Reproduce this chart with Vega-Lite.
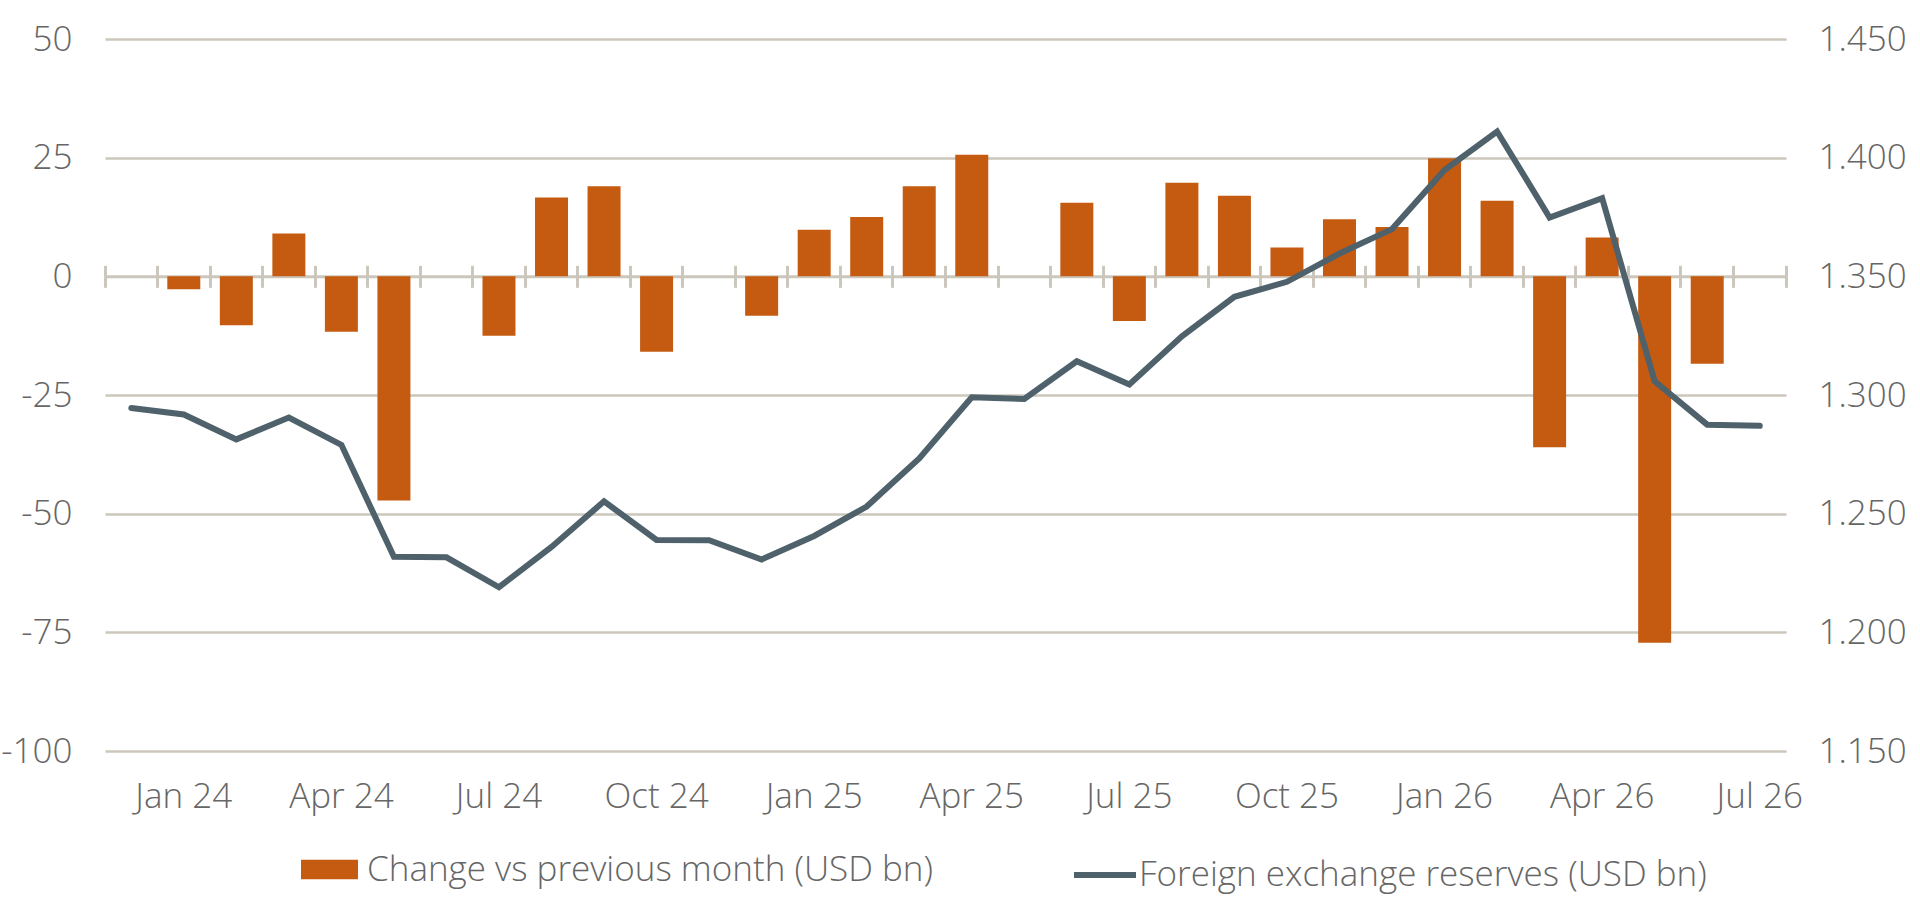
{
  "$schema": "https://vega.github.io/schema/vega-lite/v6.json",
  "width": 1681,
  "height": 712,
  "autosize": {"type": "none"},
  "padding": {"left": 105, "top": 39, "right": 134, "bottom": 169},
  "config": {
    "background": "white",
    "view": {"stroke": null},
    "font": "Open Sans",
    "axis": {"labelFont": "Open Sans", "labelFontWeight": 300, "labelFontSize": 35, "labelColor": "#666666"},
    "legend": {"labelFont": "Open Sans", "labelFontWeight": 300, "labelFontSize": 35, "labelColor": "#666666", "labelLimit": 0}
  },
  "data": {
    "values": [
      {"month": "Dec 23", "change": null, "reserves": 1294.5},
      {"month": "Jan 24", "change": -2.7, "reserves": 1291.8},
      {"month": "Feb 24", "change": -10.3, "reserves": 1281.3},
      {"month": "Mar 24", "change": 9.0, "reserves": 1290.5},
      {"month": "Apr 24", "change": -11.7, "reserves": 1279.0},
      {"month": "May 24", "change": -47.2, "reserves": 1231.8},
      {"month": "Jun 24", "change": 0, "reserves": 1231.6},
      {"month": "Jul 24", "change": -12.5, "reserves": 1219.0},
      {"month": "Aug 24", "change": 16.6, "reserves": 1236.0},
      {"month": "Sep 24", "change": 19.0, "reserves": 1255.2},
      {"month": "Oct 24", "change": -15.9, "reserves": 1238.9},
      {"month": "Nov 24", "change": 0, "reserves": 1238.8},
      {"month": "Dec 24", "change": -8.3, "reserves": 1230.7},
      {"month": "Jan 25", "change": 9.8, "reserves": 1240.6},
      {"month": "Feb 25", "change": 12.5, "reserves": 1253.0},
      {"month": "Mar 25", "change": 19.0, "reserves": 1273.3},
      {"month": "Apr 25", "change": 25.6, "reserves": 1299.0},
      {"month": "May 25", "change": 0, "reserves": 1298.3},
      {"month": "Jun 25", "change": 15.5, "reserves": 1314.2},
      {"month": "Jul 25", "change": -9.4, "reserves": 1304.4},
      {"month": "Aug 25", "change": 19.7, "reserves": 1324.7},
      {"month": "Sep 25", "change": 17.0, "reserves": 1341.4},
      {"month": "Oct 25", "change": 6.1, "reserves": 1347.7},
      {"month": "Nov 25", "change": 12.0, "reserves": 1359.6},
      {"month": "Dec 25", "change": 10.4, "reserves": 1369.9},
      {"month": "Jan 26", "change": 24.9, "reserves": 1394.8},
      {"month": "Feb 26", "change": 15.9, "reserves": 1411.0},
      {"month": "Mar 26", "change": -36.0, "reserves": 1374.8},
      {"month": "Apr 26", "change": 8.2, "reserves": 1382.9},
      {"month": "May 26", "change": -77.2, "reserves": 1305.8},
      {"month": "Jun 26", "change": -18.4, "reserves": 1287.5},
      {"month": "Jul 26", "change": 0, "reserves": 1287.0}
    ]
  },
  "layer": [
    {
      "mark": {"type": "bar", "width": {"band": 0.628}},
      "encoding": {
        "x": {
          "field": "month",
          "type": "nominal",
          "sort": ["Dec 23", "Jan 24", "Feb 24", "Mar 24", "Apr 24", "May 24", "Jun 24", "Jul 24", "Aug 24", "Sep 24", "Oct 24", "Nov 24", "Dec 24", "Jan 25", "Feb 25", "Mar 25", "Apr 25", "May 25", "Jun 25", "Jul 25", "Aug 25", "Sep 25", "Oct 25", "Nov 25", "Dec 25", "Jan 26", "Feb 26", "Mar 26", "Apr 26", "May 26", "Jun 26", "Jul 26"],
          "scale": {"paddingInner": 0, "paddingOuter": 0},
          "axis": {
            "title": null,
            "orient": "bottom",
            "offset": -474.67,
            "bandPosition": 1,
            "tickExtra": true,
            "domain": true,
            "domainColor": "#CCC7BD",
            "domainWidth": 3,
            "ticks": true,
            "tickSize": 11,
            "tickWidth": 3,
            "tickColor": "#CCC7BD",
            "grid": false,
            "labelAngle": 0,
            "labelAlign": "center",
            "labelBaseline": "alphabetic",
            "labelPadding": 520,
            "labelOffset": 0,
            "labelExpr": "indexof(['Jan', 'Apr', 'Jul', 'Oct'], substring(datum.value, 0, 3)) >= 0 ? datum.value : ''"
          }
        },
        "y": {
          "field": "change",
          "type": "quantitative",
          "scale": {"domain": [-100, 50], "nice": false},
          "axis": {
            "title": null,
            "values": [-100, -75, -50, -25, 0, 25, 50],
            "domain": false,
            "ticks": false,
            "labelPadding": 33,
            "labelExpr": "'' + datum.value",
            "grid": true,
            "gridColor": "#CCC7BD",
            "gridWidth": 2.5,
            "gridOpacity": {"condition": {"test": "datum.value === 0", "value": 0}, "value": 1}
          }
        },
        "fill": {
          "datum": "Change vs previous month (USD bn)",
          "scale": {"range": ["#C55A11"]},
          "legend": {
            "title": null,
            "orient": "none",
            "legendX": 196,
            "legendY": 802,
            "padding": 0,
            "symbolType": "M-1,-0.34H1V0.34H-1Z",
            "symbolSize": 3249,
            "symbolStrokeWidth": 0,
            "symbolOpacity": 1,
            "labelOffset": 9
          }
        }
      }
    },
    {
      "mark": {"type": "line", "strokeWidth": 6, "strokeCap": "round"},
      "encoding": {
        "x": {
          "field": "month",
          "type": "nominal",
          "sort": ["Dec 23", "Jan 24", "Feb 24", "Mar 24", "Apr 24", "May 24", "Jun 24", "Jul 24", "Aug 24", "Sep 24", "Oct 24", "Nov 24", "Dec 24", "Jan 25", "Feb 25", "Mar 25", "Apr 25", "May 25", "Jun 25", "Jul 25", "Aug 25", "Sep 25", "Oct 25", "Nov 25", "Dec 25", "Jan 26", "Feb 26", "Mar 26", "Apr 26", "May 26", "Jun 26", "Jul 26"],
          "axis": {
            "title": null,
            "orient": "top",
            "offset": -237.33,
            "bandPosition": 1,
            "tickExtra": true,
            "domain": false,
            "ticks": true,
            "tickSize": 11,
            "tickWidth": 3,
            "tickColor": "#CCC7BD",
            "grid": false,
            "labels": false
          }
        },
        "y": {
          "field": "reserves",
          "type": "quantitative",
          "scale": {"domain": [1150, 1450], "nice": false, "zero": false},
          "axis": {
            "title": null,
            "orient": "right",
            "values": [1150, 1200, 1250, 1300, 1350, 1400, 1450],
            "domain": false,
            "ticks": false,
            "grid": false,
            "labelPadding": 32,
            "labelExpr": "replace(format(datum.value, ','), ',', '.')"
          }
        },
        "stroke": {
          "datum": "Foreign exchange reserves (USD bn)",
          "scale": {"range": ["#4F626C"]},
          "legend": {
            "title": null,
            "orient": "none",
            "legendX": 966,
            "legendY": 802,
            "padding": 0,
            "symbolType": "stroke",
            "symbolSize": 3844,
            "symbolStrokeWidth": 6,
            "labelOffset": 0
          }
        }
      }
    }
  ],
  "resolve": {
    "scale": {"y": "independent", "fill": "independent", "stroke": "independent"},
    "axis": {"x": "independent", "y": "independent"},
    "legend": {"fill": "independent", "stroke": "independent"}
  }
}
